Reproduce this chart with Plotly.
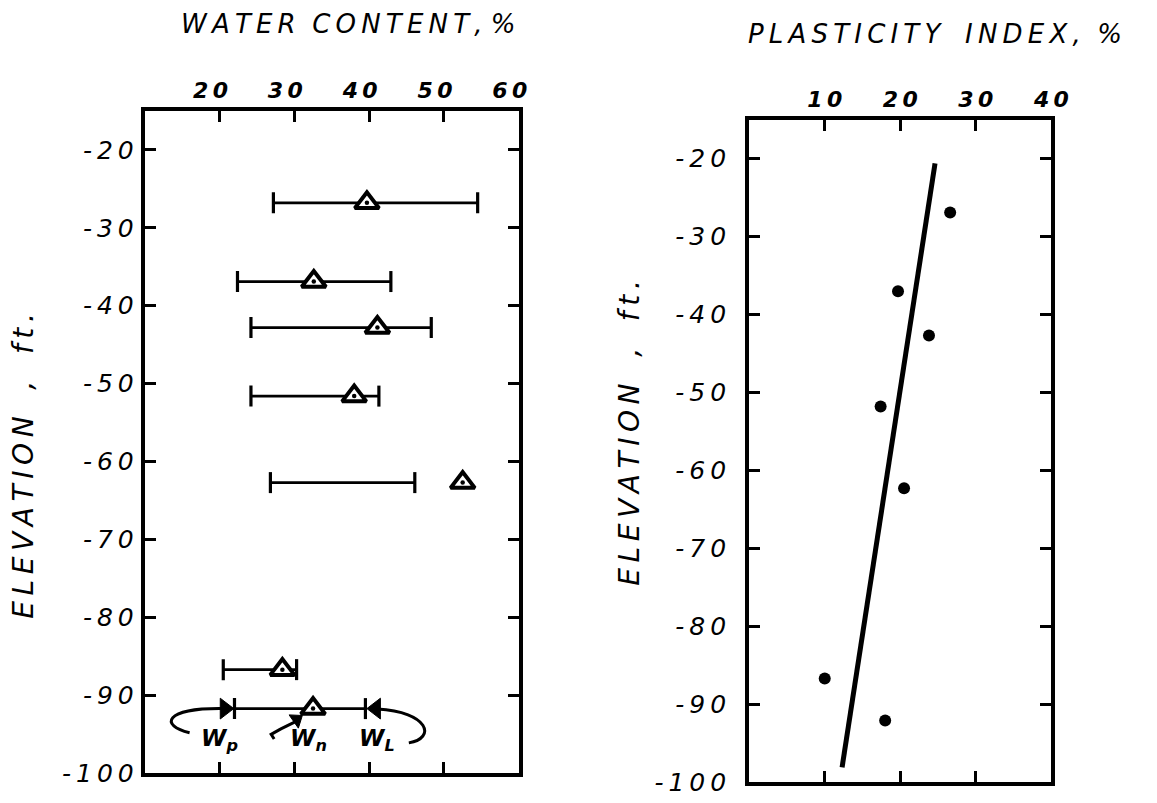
import plotly.graph_objects as go

# ---------------- data ----------------
# Left panel: water content ranges per sample elevation
elev = [-26.8, -36.9, -42.8, -51.6, -62.7, -86.7, -91.7]
w_p = [27.2, 22.4, 24.2, 24.2, 26.8, 20.5, 22.0]   # plastic limit
w_l = [54.5, 42.9, 48.3, 41.3, 46.1, 30.3, 39.5]   # liquid limit
w_n = [39.7, 32.6, 41.1, 38.0, 52.5, 28.4, 32.5]   # natural water content

# Right panel: plasticity index
pi_elev = [-26.9, -37.0, -42.7, -51.8, -62.3, -86.7, -92.1]
pi_vals = [26.6, 19.7, 23.8, 17.4, 20.5, 10.0, 18.0]
trend_pi = [12.3, 24.6]
trend_elev = [-98.1, -20.6]

left_xticks = [20, 30, 40, 50, 60]
right_xticks = [10, 20, 30, 40]
yticks = [-20, -30, -40, -50, -60, -70, -80, -90, -100]

FONT = "DejaVu Sans"
TS = "\u2009"  # thin space used to widen hand-lettered text


def spaced(s):
    return TS.join(list(s))


fig = go.Figure()

# range bars (Wp to WL) with end caps
bx, by = [], []
for a, b, e in zip(w_p, w_l, elev):
    bx += [a, b, None]
    by += [e, e, None]
fig.add_trace(go.Scatter(
    x=bx, y=by, mode="lines+markers", xaxis="x", yaxis="y",
    line=dict(color="black", width=2.8),
    marker=dict(symbol="line-ns-open", size=15, line=dict(color="black", width=3.2)),
    showlegend=False, hoverinfo="skip"))

# natural water content triangles
fig.add_trace(go.Scatter(
    x=w_n, y=elev, mode="markers", xaxis="x", yaxis="y",
    marker=dict(symbol="triangle-up", size=21, color="white",
                line=dict(color="black", width=4)),
    showlegend=False))
fig.add_trace(go.Scatter(
    x=w_n, y=elev, mode="markers", xaxis="x", yaxis="y",
    marker=dict(symbol="circle", size=4.5, color="black"),
    showlegend=False, hoverinfo="skip"))

# right panel: points + trend line
fig.add_trace(go.Scatter(
    x=trend_pi, y=trend_elev, mode="lines", xaxis="x2", yaxis="y2",
    line=dict(color="black", width=5), showlegend=False))
fig.add_trace(go.Scatter(
    x=pi_vals, y=pi_elev, mode="markers", xaxis="x2", yaxis="y2",
    marker=dict(symbol="circle", size=12, color="black"),
    showlegend=False))

# explanatory arrowheads at the bottom sample (Wp, Wn, WL)
p0, l0, n0, e_last = w_p[-1], w_l[-1], w_n[-1], elev[-1]
for hx, hy, sym, ang, sz in [(p0 - 1.3, e_last, "triangle-right", 0, 18),
                             (l0 + 1.4, e_last, "triangle-left", 0, 18),
                             (n0 - 2.2, e_last - 1.4, "triangle-right", -35, 14)]:
    fig.add_trace(go.Scatter(
        x=[hx], y=[hy], mode="markers", xaxis="x", yaxis="y",
        marker=dict(symbol=sym, angle=ang, size=sz, color="black",
                    line=dict(color="black", width=1)),
        showlegend=False, hoverinfo="skip"))

W, H = 1157, 803
ax_common = dict(showline=True, linecolor="black", linewidth=4, mirror="allticks",
                 ticks="inside", ticklen=11, tickwidth=3, tickcolor="black",
                 showgrid=False, zeroline=False)
tickfont_x = dict(family=FONT, size=22, color="black", style="italic", weight="bold")
tickfont_y = dict(family=FONT, size=25, color="black", style="italic")

ytext = [spaced(str(v)) for v in yticks]

fig.update_layout(
    width=W, height=H, margin=dict(l=0, r=0, t=0, b=0),
    paper_bgcolor="white", plot_bgcolor="white",
    xaxis=dict(domain=[147 / W, 527 / W], range=[10, 60], side="top",
               tickvals=left_xticks, ticktext=[spaced(str(v)) for v in left_xticks],
               tickfont=tickfont_x, anchor="y", ticklabelshift=-9, **ax_common),
    yaxis=dict(domain=[1 - 788 / H, 1 - 113 / H], range=[-100, -15],
               tickvals=yticks, ticktext=ytext,
               tickfont=tickfont_y, anchor="x", ticklabelstandoff=2, **ax_common),
    xaxis2=dict(domain=[761 / W, 1068 / W], range=[0, 40], side="top",
                tickvals=right_xticks, ticktext=[spaced(str(v)) for v in right_xticks],
                tickfont=tickfont_x, anchor="y2", **ax_common),
    yaxis2=dict(domain=[1 - 797 / H, 1 - 122 / H], range=[-100, -15],
                tickvals=yticks, ticktext=ytext,
                tickfont=tickfont_y, anchor="x2", ticklabelstandoff=14, **ax_common),
)

title_font = dict(family=FONT, size=26, color="black", style="italic")
axis_title_font = dict(family=FONT, size=28, color="black", style="italic")
ann = [
    dict(text=spaced("WATER") + "  " + spaced("CONTENT,") + " " + "%", x=353 / W, y=1 - 24 / H,
         xref="paper", yref="paper",
         showarrow=False, font=title_font, xanchor="center", yanchor="middle"),
    dict(text=spaced("PLASTICITY") + "   " + spaced("INDEX,") + "  " + "%", x=950 / W, y=1 - 35 / H,
         xref="paper", yref="paper",
         showarrow=False, font=title_font, xanchor="center", yanchor="middle"),
    dict(text=spaced("ELEVATION") + "   ,   " + spaced("ft."), x=24 / W, y=1 - 475 / H,
         xref="paper", yref="paper",
         showarrow=False, textangle=-90, font=axis_title_font,
         xanchor="center", yanchor="middle"),
    dict(text=spaced("ELEVATION") + "   ,   " + spaced("ft."), x=640 / W, y=1 - 441 / H,
         xref="paper", yref="paper",
         showarrow=False, textangle=-90, font=axis_title_font,
         xanchor="center", yanchor="middle"),
]

lab_font = dict(family=FONT, size=23, color="black", style="italic", weight="bold")
ann += [
    dict(text="W<sub>p</sub>", x=p0 - 2.0, y=e_last - 4.0, xref="x", yref="y",
         showarrow=False, font=lab_font),
    dict(text="W<sub>n</sub>", x=n0 - 0.6, y=e_last - 4.0, xref="x", yref="y",
         showarrow=False, font=lab_font),
    dict(text="W<sub>L</sub>", x=l0 + 1.5, y=e_last - 4.0, xref="x", yref="y",
         showarrow=False, font=lab_font),
]
fig.update_layout(annotations=ann)

# curved arrow tails (drawn below the traces)
shapes = [
    dict(type="path", xref="x", yref="y", layer="below",
         path=f"M {p0-6.0},{e_last-3.1} C {p0-10.0},{e_last-2.2} {p0-9.5},{e_last+0.1} {p0-1.5},{e_last}",
         line=dict(color="black", width=3)),
    dict(type="path", xref="x", yref="y", layer="below",
         path=f"M {l0+5.8},{e_last-4.4} C {l0+9.5},{e_last-3.8} {l0+8.5},{e_last-0.4} {l0+1.6},{e_last-0.05}",
         line=dict(color="black", width=3)),
    dict(type="path", xref="x", yref="y", layer="below",
         path=f"M {n0-2.2},{e_last-1.6} L {n0-4.3},{e_last-2.6} L {n0-5.6},{e_last-3.3} L {n0-5.2},{e_last-3.9}",
         line=dict(color="black", width=3)),
]
fig.update_layout(shapes=shapes)

fig.write_html("out.html")
